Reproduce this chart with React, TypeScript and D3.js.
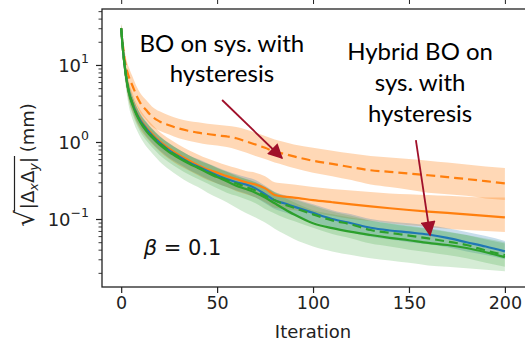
import { useEffect, useRef } from "react";
import * as d3 from "d3";

// iteration grid used for every series
const iterations = [0, 1, 2, 3, 4, 6, 8, 10, 13, 16, 20, 25, 30, 35, 40, 45, 50, 55, 60, 65, 70, 75, 80, 85, 90, 100, 110, 120, 130, 140, 150, 160, 170, 180, 190, 200];

// BO on system with hysteresis (orange dashed)
const hystMid = [30, 17, 11, 8.5, 7, 5.3, 4.0, 3.2, 2.6, 2.15, 1.85, 1.65, 1.5, 1.4, 1.32, 1.27, 1.22, 1.18, 1.12, 1.02, 0.93, 0.84, 0.75, 0.7, 0.65, 0.57, 0.52, 0.47, 0.43, 0.41, 0.39, 0.37, 0.35, 0.33, 0.31, 0.29];
const hystLo = [26, 13, 8.5, 6.5, 5.3, 4.0, 3.0, 2.4, 1.95, 1.6, 1.4, 1.25, 1.12, 1.04, 0.98, 0.93, 0.9, 0.86, 0.8, 0.73, 0.66, 0.6, 0.54, 0.5, 0.46, 0.4, 0.36, 0.32, 0.28, 0.26, 0.24, 0.22, 0.21, 0.2, 0.185, 0.177];
const hystHi = [34, 22, 14.5, 11, 9.3, 7.0, 5.3, 4.3, 3.5, 2.9, 2.5, 2.2, 2.0, 1.88, 1.8, 1.72, 1.67, 1.62, 1.56, 1.45, 1.32, 1.2, 1.08, 1.0, 0.93, 0.84, 0.77, 0.71, 0.66, 0.63, 0.6, 0.57, 0.54, 0.51, 0.48, 0.46];

// orange solid
const orangeMid = [30, 15, 9, 6, 4.5, 3.2, 2.4, 1.95, 1.55, 1.28, 1.02, 0.82, 0.68, 0.58, 0.5, 0.44, 0.4, 0.36, 0.33, 0.3, 0.28, 0.25, 0.205, 0.195, 0.19, 0.176, 0.165, 0.155, 0.146, 0.138, 0.131, 0.125, 0.12, 0.115, 0.11, 0.105];
const orangeLo = [26, 12, 7, 4.6, 3.4, 2.4, 1.8, 1.45, 1.15, 0.95, 0.76, 0.6, 0.5, 0.43, 0.37, 0.32, 0.29, 0.26, 0.23, 0.21, 0.19, 0.165, 0.14, 0.135, 0.13, 0.12, 0.11, 0.1, 0.094, 0.088, 0.083, 0.079, 0.075, 0.072, 0.07, 0.068];
const orangeHi = [34, 19, 11.5, 7.8, 6, 4.3, 3.2, 2.6, 2.05, 1.7, 1.36, 1.1, 0.92, 0.79, 0.69, 0.61, 0.55, 0.5, 0.46, 0.42, 0.4, 0.36, 0.3, 0.29, 0.28, 0.26, 0.245, 0.235, 0.225, 0.215, 0.21, 0.205, 0.2, 0.195, 0.19, 0.19];

// blue solid
const blueMid = [30, 15, 9, 6, 4.5, 3.1, 2.35, 1.9, 1.5, 1.22, 0.98, 0.78, 0.65, 0.55, 0.48, 0.42, 0.37, 0.33, 0.3, 0.28, 0.25, 0.21, 0.175, 0.16, 0.145, 0.12, 0.1, 0.088, 0.077, 0.071, 0.067, 0.063, 0.057, 0.05, 0.044, 0.038];
const blueLo = [27, 12.5, 7.5, 5, 3.7, 2.55, 1.9, 1.55, 1.2, 0.98, 0.78, 0.62, 0.52, 0.44, 0.38, 0.33, 0.29, 0.26, 0.235, 0.215, 0.19, 0.16, 0.135, 0.122, 0.11, 0.092, 0.077, 0.067, 0.059, 0.054, 0.05, 0.047, 0.043, 0.038, 0.034, 0.03];
const blueHi = [33, 18, 11, 7.3, 5.5, 3.8, 2.9, 2.35, 1.85, 1.5, 1.2, 0.96, 0.8, 0.68, 0.6, 0.53, 0.47, 0.42, 0.38, 0.35, 0.32, 0.27, 0.225, 0.205, 0.185, 0.155, 0.13, 0.115, 0.1, 0.093, 0.088, 0.083, 0.076, 0.068, 0.06, 0.052];

// green dashed
const greenDashMid = [30, 15, 9, 6, 4.5, 3.1, 2.3, 1.85, 1.45, 1.2, 0.96, 0.77, 0.64, 0.54, 0.47, 0.41, 0.36, 0.32, 0.29, 0.26, 0.235, 0.2, 0.175, 0.155, 0.14, 0.115, 0.096, 0.085, 0.072, 0.066, 0.061, 0.056, 0.051, 0.046, 0.039, 0.034];
const greenDashLo = [26, 12, 7, 4.6, 3.4, 2.3, 1.7, 1.35, 1.05, 0.86, 0.68, 0.54, 0.45, 0.38, 0.33, 0.29, 0.25, 0.22, 0.2, 0.18, 0.16, 0.135, 0.118, 0.104, 0.094, 0.077, 0.064, 0.056, 0.048, 0.044, 0.04, 0.037, 0.034, 0.031, 0.027, 0.024];
const greenDashHi = [34, 18.5, 11, 7.4, 5.6, 3.9, 2.9, 2.3, 1.8, 1.5, 1.2, 0.96, 0.8, 0.68, 0.59, 0.52, 0.46, 0.41, 0.37, 0.33, 0.3, 0.26, 0.225, 0.2, 0.18, 0.15, 0.125, 0.11, 0.095, 0.088, 0.082, 0.076, 0.069, 0.062, 0.054, 0.048];

// green solid
const greenMid = [30, 15, 9, 6, 4.4, 3.0, 2.25, 1.8, 1.4, 1.15, 0.92, 0.74, 0.62, 0.53, 0.46, 0.4, 0.35, 0.31, 0.27, 0.245, 0.22, 0.19, 0.16, 0.135, 0.115, 0.088, 0.076, 0.068, 0.062, 0.057, 0.053, 0.049, 0.046, 0.042, 0.037, 0.032];
const greenLo = [25, 11, 6.2, 4, 2.9, 1.95, 1.45, 1.15, 0.88, 0.72, 0.56, 0.44, 0.36, 0.3, 0.26, 0.22, 0.19, 0.165, 0.14, 0.12, 0.105, 0.09, 0.075, 0.064, 0.055, 0.044, 0.038, 0.034, 0.031, 0.029, 0.027, 0.025, 0.024, 0.023, 0.022, 0.021];
const greenHi = [34, 19, 11.5, 7.8, 5.7, 3.9, 2.9, 2.3, 1.8, 1.48, 1.18, 0.95, 0.8, 0.68, 0.59, 0.52, 0.46, 0.41, 0.36, 0.33, 0.3, 0.26, 0.22, 0.19, 0.165, 0.13, 0.115, 0.104, 0.095, 0.087, 0.08, 0.074, 0.068, 0.062, 0.056, 0.05];

const xTicks = [0, 50, 100, 150, 200];
const yMajor = [0.1, 1, 10];
const yMajorExp = ["\u22121", "0", "1"];

const App = () => {
  const svgRef = useRef<SVGSVGElement>(null);

  useEffect(() => {
    const svg = d3.select(svgRef.current);
    svg.selectAll("*").remove();

    const font = "DejaVu Sans, sans-serif";
    const ink = "#222";
    const x = d3.scaleLinear().domain([-10, 211]).range([102, 526]);
    const y = d3.scaleLog().domain([0.0131, 53.3]).range([287, 9]);
    const [x0, x1] = x.range();
    const [yb, yt] = y.range();

    const series = [
      { mid: hystMid, lo: hystLo, hi: hystHi, color: "#ff7f0e", alpha: 0.3, dash: "9,5" },
      { mid: orangeMid, lo: orangeLo, hi: orangeHi, color: "#ff7f0e", alpha: 0.3, dash: null },
      { mid: blueMid, lo: blueLo, hi: blueHi, color: "#1f77b4", alpha: 0.25, dash: null },
      { mid: greenDashMid, lo: greenDashLo, hi: greenDashHi, color: "#2ca02c", alpha: 0.2, dash: "9,5" },
      { mid: greenMid, lo: greenLo, hi: greenHi, color: "#2ca02c", alpha: 0.2, dash: null },
    ];

    const defs = svg.append("defs");
    defs
      .append("marker")
      .attr("id", "arrowhead")
      .attr("viewBox", "0 0 10 10")
      .attr("refX", 9)
      .attr("refY", 5)
      .attr("markerUnits", "userSpaceOnUse")
      .attr("markerWidth", 17)
      .attr("markerHeight", 15)
      .attr("orient", "auto")
      .append("path")
      .attr("d", "M0,0 L10,5 L0,10 z")
      .attr("fill", "#a0102a");
    defs
      .append("clipPath")
      .attr("id", "plotclip")
      .append("rect")
      .attr("x", x0)
      .attr("y", yt)
      .attr("width", x1 - x0)
      .attr("height", yb - yt);

    const plot = svg.append("g").attr("clip-path", "url(#plotclip)");

    const area = d3
      .area<number>()
      .x((_, i) => x(iterations[i]))
      .curve(d3.curveMonotoneX);
    const line = d3
      .line<number>()
      .x((_, i) => x(iterations[i]))
      .y((d) => y(d))
      .curve(d3.curveMonotoneX);

    series.forEach((s) => {
      plot
        .append("path")
        .attr("d", area.y0((_, i) => y(s.lo[i])).y1((_, i) => y(s.hi[i]))(s.mid))
        .attr("fill", s.color)
        .attr("fill-opacity", s.alpha)
        .attr("stroke", "none");
    });
    series.forEach((s) => {
      plot
        .append("path")
        .attr("d", line(s.mid))
        .attr("fill", "none")
        .attr("stroke", s.color)
        .attr("stroke-width", 2.2)
        .attr("stroke-dasharray", s.dash);
    });

    // ticks of the subplot above (only their ends show)
    svg
      .append("g")
      .attr("transform", "translate(0,-1)")
      .call(d3.axisBottom(x).tickValues(xTicks).tickSize(5).tickFormat(() => ""))
      .call((g) => g.select(".domain").remove())
      .selectAll("line")
      .attr("stroke", ink);

    // frame (right spine falls just outside the picture)
    svg
      .append("rect")
      .attr("x", x0)
      .attr("y", yt)
      .attr("width", x1 - x0)
      .attr("height", yb - yt)
      .attr("fill", "none")
      .attr("stroke", ink)
      .attr("stroke-width", 1.3);

    // x axis
    const xAxis = svg
      .append("g")
      .attr("transform", `translate(0,${yb})`)
      .call(d3.axisBottom(x).tickValues(xTicks).tickSize(6).tickPadding(4));
    xAxis.select(".domain").remove();
    xAxis.selectAll("line").attr("stroke", ink).attr("stroke-width", 1.2);
    xAxis.selectAll("text").attr("font-family", font).attr("font-size", 17.5).attr("fill", ink);

    svg
      .append("text")
      .attr("x", x(100))
      .attr("y", 338)
      .attr("text-anchor", "middle")
      .attr("font-family", font)
      .attr("font-size", 18)
      .attr("fill", ink)
      .text("Iteration");

    // y axis (log)
    const minor: number[] = [];
    [0.01, 0.1, 1, 10].forEach((d) => {
      for (let k = 2; k <= 9; k++) {
        const v = d * k;
        if (v > 0.0131 && v < 53.3) minor.push(v);
      }
    });
    const yMinorAxis = svg
      .append("g")
      .attr("transform", `translate(${x0},0)`)
      .call(d3.axisLeft(y).tickValues(minor).tickSize(3.5).tickFormat(() => ""));
    yMinorAxis.select(".domain").remove();
    yMinorAxis.selectAll("line").attr("stroke", ink).attr("stroke-width", 0.9);

    const yMajorAxis = svg
      .append("g")
      .attr("transform", `translate(${x0},0)`)
      .call(d3.axisLeft(y).tickValues(yMajor).tickSize(6).tickFormat(() => ""));
    yMajorAxis.select(".domain").remove();
    yMajorAxis.selectAll("line").attr("stroke", ink).attr("stroke-width", 1.2);

    yMajor.forEach((v, i) => {
      const t = svg
        .append("text")
        .attr("x", 89)
        .attr("y", y(v) + 7)
        .attr("text-anchor", "end")
        .attr("font-family", font)
        .attr("font-size", 18)
        .attr("fill", ink);
      t.append("tspan").text("10");
      t.append("tspan").attr("dy", -9).attr("font-size", 12.5).text(yMajorExp[i]);
    });

    // y label: sqrt glyph, radicand with an overbar, unit
    const lab = svg
      .append("g")
      .attr("transform", "translate(34,165) rotate(-90)")
      .attr("font-family", font)
      .attr("fill", ink);
    const sq = lab.append("text").attr("font-size", 26).text("\u221A");
    const rad = lab.append("text").attr("font-size", 18);
    rad.append("tspan").text("|\u0394");
    rad.append("tspan").attr("font-size", 13).attr("font-style", "italic").attr("dy", 4).text("x");
    rad.append("tspan").attr("dy", -4).text("\u0394");
    rad.append("tspan").attr("font-size", 13).attr("font-style", "italic").attr("dy", 4).text("y");
    rad.append("tspan").attr("dy", -4).text("|");
    const unit = lab.append("text").attr("font-size", 18).text("\u2009(mm)");
    const w1 = (sq.node() as SVGTextElement).getComputedTextLength();
    const w2 = (rad.node() as SVGTextElement).getComputedTextLength() + 2;
    const w3 = (unit.node() as SVGTextElement).getComputedTextLength();
    const start = -(w1 + w2 + w3) / 2;
    sq.attr("x", start);
    rad.attr("x", start + w1 + 1);
    unit.attr("x", start + w1 + w2);
    lab
      .append("line")
      .attr("x1", start + w1 - 1.5)
      .attr("x2", start + w1 + w2)
      .attr("y1", -19.5)
      .attr("y2", -19.5)
      .attr("stroke", ink)
      .attr("stroke-width", 1.2);

    // beta label
    const beta = svg
      .append("text")
      .attr("x", x(32))
      .attr("y", y(0.034))
      .attr("text-anchor", "middle")
      .attr("font-family", font)
      .attr("font-size", 21)
      .attr("fill", "#111");
    beta.append("tspan").attr("font-style", "italic").text("\u03B2");
    beta.append("tspan").text(" = 0.1");

    // annotations
    const annFont = "Lato, 'Open Sans', sans-serif";
    const ann1 = svg
      .append("text")
      .attr("y", y(14.8))
      .attr("text-anchor", "middle")
      .attr("font-family", annFont)
      .attr("font-size", 24)
      .attr("fill", "#000");
    ann1.append("tspan").attr("x", x(52.5)).text("BO on sys. with");
    ann1.append("tspan").attr("x", x(52.5)).attr("dy", 30).text("hysteresis");

    const ann2 = svg
      .append("text")
      .attr("y", y(11.6))
      .attr("text-anchor", "middle")
      .attr("font-family", annFont)
      .attr("font-size", 24)
      .attr("fill", "#000");
    ann2.append("tspan").attr("x", x(155.8)).text("Hybrid BO on");
    ann2.append("tspan").attr("x", x(155.8)).attr("dy", 31).text("sys. with");
    ann2.append("tspan").attr("x", x(155.8)).attr("dy", 31).text("hysteresis");

    svg
      .append("line")
      .attr("x1", x(52.6))
      .attr("y1", y(3.51))
      .attr("x2", x(83.8))
      .attr("y2", y(0.62))
      .attr("stroke", "#a0102a")
      .attr("stroke-width", 1.8)
      .attr("marker-end", "url(#arrowhead)");
    svg
      .append("line")
      .attr("x1", x(153.6))
      .attr("y1", y(1.06))
      .attr("x2", x(161))
      .attr("y2", y(0.062))
      .attr("stroke", "#a0102a")
      .attr("stroke-width", 1.8)
      .attr("marker-end", "url(#arrowhead)");
  }, []);

  return (
    <svg
      ref={svgRef}
      width={525}
      height={343}
      style={{ position: "absolute", left: 0, top: 0, background: "#fff" }}
    ></svg>
  );
};

export default App;
